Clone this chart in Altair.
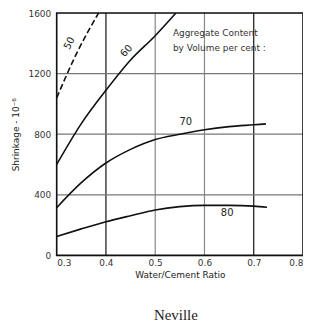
import altair as alt
import pandas as pd

# Curves: aggregate content by volume (per cent)
wc_50 = [0.30, 0.34, 0.385]
sh_50 = [1040, 1330, 1600]

wc_60 = [0.30, 0.35, 0.40, 0.45, 0.50, 0.542]
sh_60 = [600, 870, 1090, 1290, 1450, 1600]

wc_70 = [0.30, 0.35, 0.40, 0.45, 0.50, 0.55, 0.60, 0.65, 0.70, 0.725]
sh_70 = [315, 480, 610, 700, 765, 800, 830, 850, 862, 868]

wc_80 = [0.30, 0.35, 0.40, 0.45, 0.50, 0.55, 0.60, 0.65, 0.70, 0.727]
sh_80 = [125, 175, 222, 262, 300, 322, 330, 330, 325, 318]

x_ticks = [0.3, 0.4, 0.5, 0.6, 0.7, 0.8]
y_ticks = [0, 400, 800, 1200, 1600]

W, H = 248, 244

rows = []
for name, xs, ys in [("50", wc_50, sh_50), ("60", wc_60, sh_60),
                     ("70", wc_70, sh_70), ("80", wc_80, sh_80)]:
    for i, (a, b) in enumerate(zip(xs, ys)):
        rows.append({"curve": name, "wc": a, "sh": b, "order": i})
df = pd.DataFrame(rows)

x_scale = alt.Scale(domain=[0.3, 0.8], nice=False, zero=False)
y_scale = alt.Scale(domain=[0, 1600], nice=False)

x_axis = alt.Axis(values=x_ticks, format=".1f", title="Water/Cement Ratio",
                  grid=False, ticks=False, domain=False, labelFontSize=9,
                  labelColor="#333", titleFontSize=9, titleFontWeight="normal",
                  titleColor="#222", labelPadding=3, titlePadding=3,
                  labelFont="DejaVu Sans", titleFont="DejaVu Sans")
y_axis = alt.Axis(values=y_ticks, format="d", title="Shrinkage - 10⁻⁶",
                  grid=False, ticks=False, domain=False, labelFontSize=9,
                  labelColor="#333", titleFontSize=9, titleFontWeight="normal",
                  titleColor="#222", labelPadding=6, titlePadding=8,
                  labelFont="DejaVu Sans", titleFont="DejaVu Sans")

base = alt.Chart(df)

# grid lines
vgrid = pd.DataFrame({"v": [0.4, 0.5, 0.6, 0.7],
                      "c": ["#111", "#888", "#888", "#111"]})
hgrid = pd.DataFrame({"h": [400, 800, 1200]})
vlines = alt.Chart(vgrid).mark_rule(strokeWidth=1.2).encode(
    x=alt.X("v:Q", scale=x_scale, axis=x_axis),
    color=alt.Color("c:N", scale=None))
hlines = alt.Chart(hgrid).mark_rule(color="#777", strokeWidth=1.2).encode(
    y=alt.Y("h:Q", scale=y_scale, axis=y_axis))

frame = alt.Chart(pd.DataFrame({"k": [0]})).mark_rect(
    fill=None, stroke="#111", strokeWidth=1.6).encode(
    x=alt.value(0), x2=alt.value(W), y=alt.value(0), y2=alt.value(H))

solid = base.transform_filter("datum.curve != '50'").mark_line(
    color="#111", strokeWidth=1.6, interpolate="monotone", clip=True).encode(
    x=alt.X("wc:Q", scale=x_scale, axis=x_axis),
    y=alt.Y("sh:Q", scale=y_scale, axis=y_axis),
    detail="curve:N", order="order:Q")
dashed = base.transform_filter("datum.curve == '50'").mark_line(
    color="#111", strokeWidth=1.6, strokeDash=[6, 3], interpolate="monotone",
    clip=True).encode(
    x=alt.X("wc:Q", scale=x_scale, axis=x_axis),
    y=alt.Y("sh:Q", scale=y_scale, axis=y_axis),
    order="order:Q")

lab = pd.DataFrame({
    "t": ["50", "60", "70", "80"],
    "x": [0.326, 0.442, 0.562, 0.646],
    "y": [1400, 1350, 880, 282],
    "a": [-62, -48, 0, 0],
})
labels = alt.Chart(lab).mark_text(fontSize=10, font="DejaVu Sans",
                                   color="#222").encode(
    x=alt.X("x:Q", scale=x_scale, axis=x_axis),
    y=alt.Y("y:Q", scale=y_scale, axis=y_axis),
    text="t:N", angle=alt.Angle("a:Q", scale=None))

note = pd.DataFrame({"t": ["Aggregate Content", "by Volume   per cent :"],
                     "x": [0.536, 0.536], "y": [1469, 1372]})
notes = alt.Chart(note).mark_text(fontSize=9, font="DejaVu Sans", align="left",
                                  color="#333").encode(
    x=alt.X("x:Q", scale=x_scale, axis=x_axis),
    y=alt.Y("y:Q", scale=y_scale, axis=y_axis),
    text="t:N")

cap = alt.Chart(pd.DataFrame({"t": ["Neville"]})).mark_text(
    fontSize=15, font="Liberation Serif", color="#222").encode(
    x=alt.value(120), y=alt.value(304), text="t:N")

chart = alt.layer(vlines, hlines, frame, solid, dashed, labels, notes, cap).properties(
    width=W, height=H,
    autosize=alt.AutoSizeParams(type="none"),
    padding={"left": 49, "top": 4, "right": 0, "bottom": 66},
).configure_view(stroke=None).configure(background="white")

chart.save("out.html", embed_options={"renderer": "svg", "actions": False})
